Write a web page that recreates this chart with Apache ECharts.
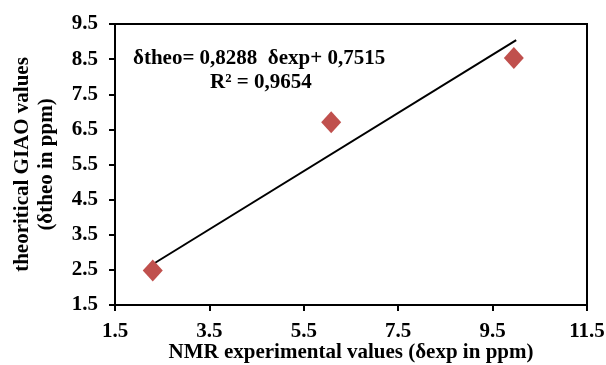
<!DOCTYPE html>
<html><head><meta charset="utf-8">
<script src="https://cdn.jsdelivr.net/npm/echarts@6/dist/echarts.min.js"></script>
<style>html,body{margin:0;padding:0;background:#fff}#c{width:606px;height:365px}</style>
</head><body><div id="c"></div>
<script>
const xTicks = [1.5, 3.5, 5.5, 7.5, 9.5, 11.5];
const yTicks = [1.5, 2.5, 3.5, 4.5, 5.5, 6.5, 7.5, 8.5, 9.5];
const expValues = [2.3, 6.08, 9.95];
const theoValues = [2.48, 6.7, 8.53];
const trendX = [2.3, 10.0];
const trendY = [2.66, 9.04];
const equationText = 'δtheo= 0,8288  δexp+ 0,7515';
const r2Text = 'R² = 0,9654';
const xTitle = 'NMR experimental values (δexp in ppm)';
const yTitle = 'theoritical GIAO values\n(δtheo in ppm)';

const font = 'Liberation Serif';
const chart = echarts.init(document.getElementById('c'), null, {renderer: 'canvas'});
chart.setOption({
  animation: false,
  grid: {left: 115, right: 19, top: 24, bottom: 60, show: true, borderColor: '#000', borderWidth: 2,
    containLabel: false, outerBoundsMode: 'none'},
  xAxis: {
    type: 'value', min: 1.5, max: 11.5, interval: 2,
    axisLine: {show: true, lineStyle: {color: '#000', width: 2}},
    axisTick: {show: true, inside: false, length: 6, lineStyle: {color: '#000', width: 2}},
    splitLine: {show: false},
    axisLabel: {color: '#000', fontFamily: font, fontWeight: 'bold', fontSize: 21, margin: 16,
      formatter: v => v.toFixed(1)},
    name: xTitle, nameLocation: 'middle', nameGap: 37, nameMoveOverlap: false,
    nameTextStyle: {color: '#000', fontFamily: font, fontWeight: 'bold', fontSize: 21}
  },
  yAxis: {
    type: 'value', min: 1.5, max: 9.5, interval: 1,
    axisLine: {show: true, lineStyle: {color: '#000', width: 2}},
    axisTick: {show: true, inside: false, length: 6, lineStyle: {color: '#000', width: 2}},
    splitLine: {show: false},
    axisLabel: {color: '#000', fontFamily: font, fontWeight: 'bold', fontSize: 21, margin: 17,
      formatter: v => v.toFixed(1)},
    name: yTitle, nameLocation: 'middle', nameGap: 56, nameRotate: 90, nameMoveOverlap: false,
    nameTextStyle: {color: '#000', fontFamily: font, fontWeight: 'bold', fontSize: 21, lineHeight: 24}
  },
  series: [
    {
      type: 'line', data: trendX.map((x, i) => [x, trendY[i]]),
      symbol: 'none', lineStyle: {color: '#000', width: 2}, z: 2
    },
    {
      type: 'scatter', data: expValues.map((x, i) => [x, theoValues[i]]),
      symbol: 'diamond', symbolSize: [20, 22],
      itemStyle: {color: '#C0504D', opacity: 1}, z: 3
    }
  ],
  graphic: [
    {type: 'text', left: 133, top: 48, style: {text: equationText, fill: '#000',
      font: 'bold 21px "Liberation Serif"'}},
    {type: 'text', left: 210, top: 72, style: {text: r2Text, fill: '#000',
      font: 'bold 21px "Liberation Serif"'}}
  ]
});
</script></body></html>
